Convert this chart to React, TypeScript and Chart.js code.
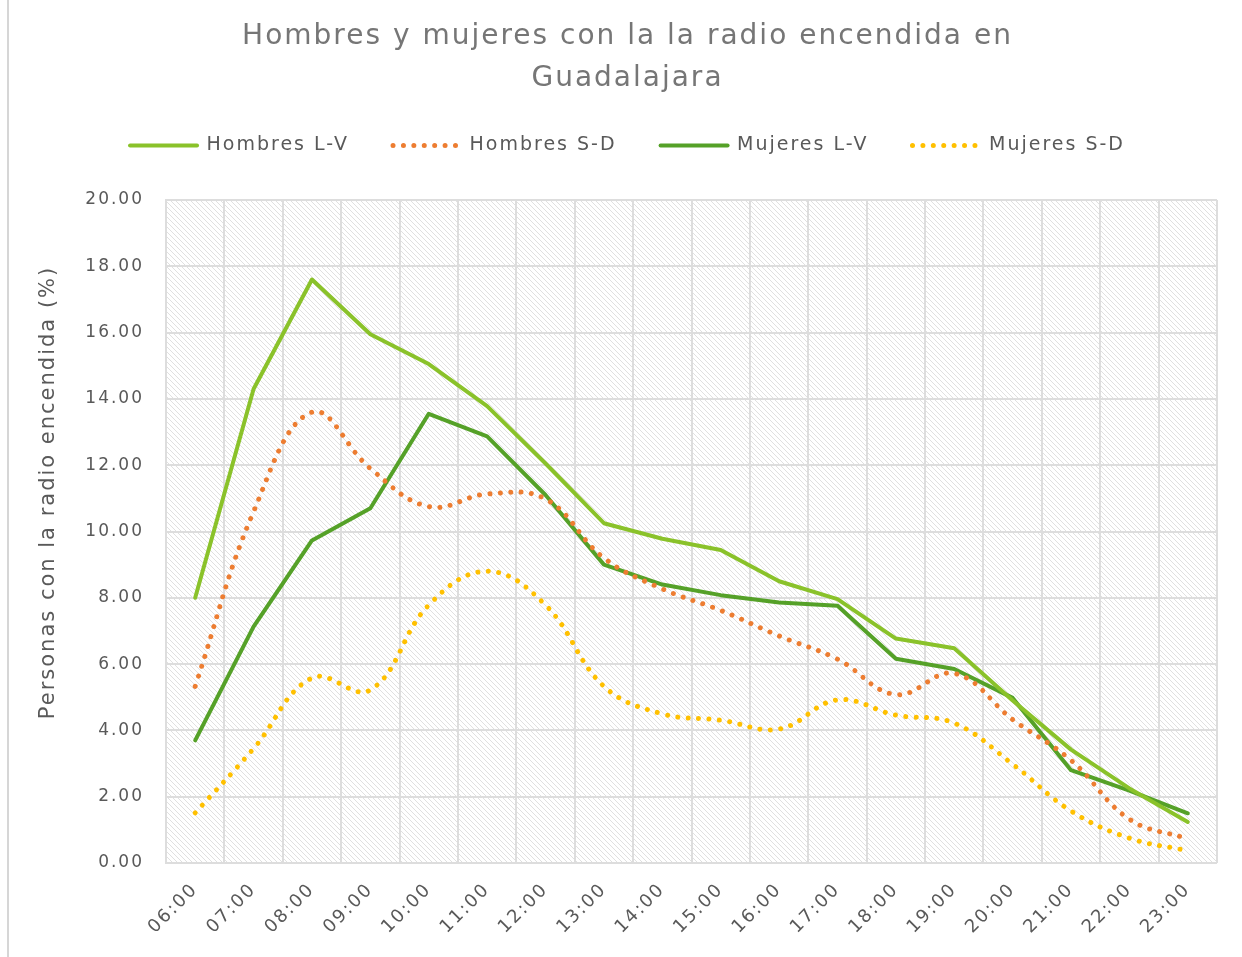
import React, { useEffect, useRef } from "react";
import { Chart, registerables } from "chart.js";

Chart.register(...registerables);

const hours = ["06:00","07:00","08:00","09:00","10:00","11:00","12:00","13:00","14:00","15:00","16:00","17:00","18:00","19:00","20:00","21:00","22:00","23:00"];
const hombresLV = [8.0, 14.3, 17.6, 15.95, 15.05, 13.78, 12.05, 10.25, 9.78, 9.44, 8.5, 7.96, 6.77, 6.48, 4.9, 3.42, 2.25, 1.24];
const hombresSD = [5.33, 10.6, 13.6, 11.9, 10.75, 11.13, 10.98, 9.2, 8.27, 7.62, 6.85, 6.15, 5.08, 5.72, 4.33, 3.1, 1.32, 0.73];
const mujeresLV = [3.7, 7.13, 9.73, 10.7, 13.55, 12.87, 11.1, 9.0, 8.4, 8.08, 7.86, 7.76, 6.16, 5.85, 4.98, 2.8, 2.18, 1.5];
const mujeresSD = [1.51, 3.45, 5.58, 5.22, 7.78, 8.8, 7.78, 5.33, 4.5, 4.31, 4.04, 4.92, 4.46, 4.22, 2.98, 1.57, 0.75, 0.37];
const yTicks = [0, 2, 4, 6, 8, 10, 12, 14, 16, 18, 20];

const FONT = "'DejaVu Sans', sans-serif";
const SPACING = "2px";

function makePattern(): CanvasPattern | string {
  const s = 5;
  const c = document.createElement("canvas");
  c.width = s;
  c.height = s;
  const g = c.getContext("2d");
  if (!g) return "#ffffff";
  g.fillStyle = "#ffffff";
  g.fillRect(0, 0, s, s);
  g.strokeStyle = "#e0e0e0";
  g.lineWidth = 1;
  g.beginPath();
  g.moveTo(-1, -1); g.lineTo(s + 1, s + 1);
  g.moveTo(-1, s - 1); g.lineTo(1, s + 1);
  g.moveTo(s - 1, -1); g.lineTo(s + 1, 1);
  g.stroke();
  const p = g.createPattern(c, "repeat");
  return p || "#ffffff";
}

export default function App() {
  const ref = useRef<HTMLCanvasElement | null>(null);
  useEffect(() => {
    if (!ref.current) return;
    const pattern = makePattern();
    const setSpacing = (chart: any) => {
      try { chart.ctx.letterSpacing = SPACING; } catch (e) { /* ignore */ }
    };
    const hatch = {
      id: "hatch",
      beforeLayout(chart: any) {
        setSpacing(chart);
        const lg = chart.legend;
        if (lg && !lg.__patched) {
          const orig = lg.fit.bind(lg);
          lg.fit = function () { orig(); this.height += 35; };
          lg.__patched = true;
        }
      },
      beforeDraw(chart: any) {
        setSpacing(chart);
        const { ctx, chartArea } = chart;
        if (!chartArea) return;
        ctx.save();
        ctx.fillStyle = pattern;
        ctx.fillRect(chartArea.left, chartArea.top, chartArea.right - chartArea.left, chartArea.bottom - chartArea.top);
        ctx.restore();
      },
    };
    const solid = (label: string, data: number[], color: string) => ({
      label, data, borderColor: color, backgroundColor: color,
      borderWidth: 4, pointRadius: 0, pointStyle: "line", tension: 0,
      borderCapStyle: "round", borderJoinStyle: "round", fill: false,
    });
    const dotted = (label: string, data: number[], color: string) => ({
      label, data, borderColor: color, backgroundColor: color,
      borderWidth: 5, pointRadius: 0, pointStyle: "line", tension: 0.4,
      borderDash: [0.01, 10.4], borderCapStyle: "round", fill: false,
    });
    const chart = new Chart(ref.current, {
      type: "line",
      data: {
        labels: hours,
        datasets: [
          solid("Hombres L-V", hombresLV, "#8ac22a"),
          dotted("Hombres S-D", hombresSD, "#ed7d31"),
          solid("Mujeres L-V", mujeresLV, "#55a128"),
          dotted("Mujeres S-D", mujeresSD, "#ffc000"),
        ] as any,
      },
      options: {
        animation: false,
        responsive: false,
        maintainAspectRatio: false,
        layout: { padding: { left: 38, right: 25, top: 0, bottom: 0 } },
        plugins: {
          title: {
            display: true,
            text: ["Hombres y mujeres con la la radio encendida en", "Guadalajara"],
            color: "#767676",
            font: { family: FONT, size: 28, weight: "normal", lineHeight: 1.5 },
            padding: { top: 16, bottom: -8 },
          },
          legend: {
            display: true,
            position: "top",
            labels: {
              usePointStyle: true,
              pointStyleWidth: 67,
              boxHeight: 19,
              padding: 44,
              color: "#595959",
              font: { family: FONT, size: 19 },
              generateLabels: (ch: any) => {
                const items = (Chart as any).defaults.plugins.legend.labels.generateLabels(ch);
                items.forEach((it: any) => {
                  const ds: any = ch.data.datasets[it.datasetIndex];
                  it.lineDash = ds.borderDash || [];
                  it.lineCap = "round";
                  it.lineWidth = ds.borderWidth;
                  it.strokeStyle = ds.borderColor;
                  it.fillStyle = ds.borderColor;
                  it.pointStyle = "line";
                });
                return items;
              },
            },
          },
          tooltip: { enabled: false },
        },
        scales: {
          x: {
            type: "category",
            offset: true,
            grid: { offset: true, color: "#dddddd", lineWidth: 2, drawTicks: false },
            border: { display: false },
            ticks: {
              color: "#595959",
              font: { family: FONT, size: 18 },
              minRotation: 45,
              maxRotation: 45,
              padding: 16,
              autoSkip: false,
            },
            afterFit(scale: any) { scale.height = 94; },
          },
          y: {
            min: 0,
            max: 20,
            afterBuildTicks(scale: any) { scale.ticks = yTicks.map((v) => ({ value: v })); },
            grid: { color: "#dddddd", lineWidth: 2, drawTicks: false },
            border: { display: true, color: "#dddddd", width: 2 },
            ticks: {
              color: "#595959",
              font: { family: FONT, size: 17 },
              padding: 22,
              callback: (v: any) => Number(v).toFixed(2),
            },
            title: {
              display: true,
              text: "         Personas con la radio encendida (%)",
              color: "#595959",
              font: { family: FONT, size: 21 },
              padding: { top: -2, bottom: 0 },
            },
            afterFit(scale: any) { scale.width = 128; },
          },
        },
      } as any,
      plugins: [hatch],
    });
    return () => chart.destroy();
  }, []);
  return (
    <div style={{ position: "fixed", left: 0, top: 0, width: 1242, height: 957, background: "#ffffff" }}>
      <canvas ref={ref} width={1242} height={957} style={{ position: "absolute", left: 0, top: 0, width: 1242, height: 957 }} />
      <div style={{ position: "absolute", left: 7, top: 0, width: 2, height: 957, background: "#d6d6d6", zIndex: 2 }} />
    </div>
  );
}
